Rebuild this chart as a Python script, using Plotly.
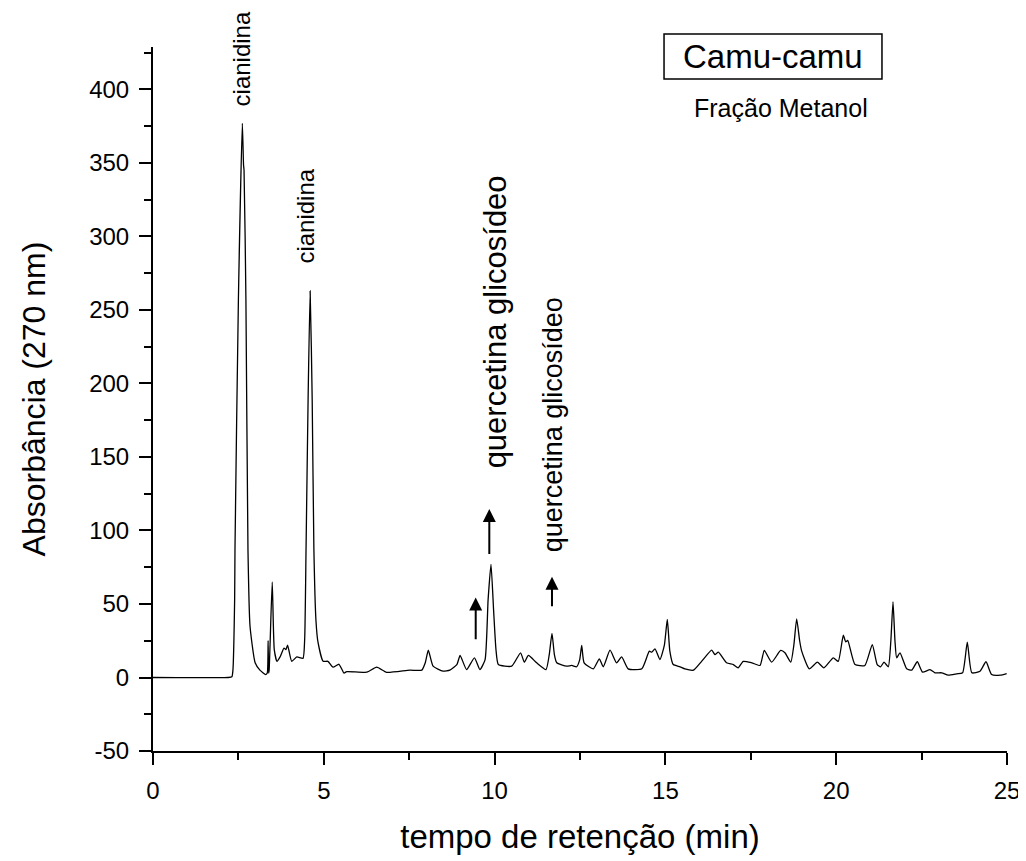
import plotly.graph_objects as go

# ---- data ----
retention_time = [
    0.0, 2.20, 2.31, 2.34, 2.39, 2.40, 2.50, 2.615, 2.65, 2.665, 2.72, 2.78, 2.84, 2.99, 3.13,
    3.30, 3.345, 3.37, 3.385, 3.40, 3.49, 3.55, 3.63, 3.72, 3.835, 3.89, 3.94, 4.06, 4.21, 4.39,
    4.44, 4.48, 4.54, 4.60, 4.66, 4.71, 4.77, 4.83, 4.98, 5.12, 5.27, 5.445, 5.59, 5.67, 6.26,
    6.55, 6.84, 7.52, 7.87, 7.97, 8.06, 8.20, 8.49, 8.69, 8.90, 8.99, 9.18, 9.41, 9.57, 9.72,
    9.81, 9.895, 9.97, 10.04, 10.11, 10.50, 10.76, 10.87, 10.99, 11.23, 11.505, 11.60, 11.68,
    11.75, 11.82, 12.11, 12.26, 12.40, 12.49, 12.55, 12.62, 12.89, 13.065, 13.18, 13.38, 13.57,
    13.72, 13.91, 14.31, 14.53, 14.60, 14.695, 14.84, 14.97, 15.056, 15.13, 15.23, 15.43, 15.57,
    15.82, 16.06, 16.355, 16.45, 16.55, 16.79, 16.99, 17.13, 17.28, 17.53, 17.77, 17.895, 18.11,
    18.375, 18.50, 18.67, 18.76, 18.843, 18.93, 18.99, 19.21, 19.45, 19.64, 19.915, 20.06,
    20.208, 20.278, 20.337, 20.55, 20.84, 21.057, 21.20, 21.30, 21.40, 21.525, 21.60, 21.663,
    21.72, 21.77, 21.867, 22.064, 22.21, 22.374, 22.53, 22.746, 22.89, 23.09, 23.28, 23.53,
    23.70, 23.838, 23.97, 24.21, 24.385, 24.55, 24.80, 24.99,
]
absorbance = [
    0.0, 0.0, 0.5, 5, 53, 87, 257, 377, 349, 345, 257, 87, 35, 10, 5,
    2, 3, 25, 3, 5, 65, 19, 11, 14, 20, 19, 22, 11, 14, 13,
    26, 87, 189, 263, 189, 87, 39, 24, 11, 11, 7, 9, 3, 4, 3.6,
    7, 3.5, 5, 5, 10, 18.6, 7.7, 4.3, 5, 9, 15, 5.4, 13.4, 5.4, 12,
    53, 77, 46, 19, 8.8, 7.7, 16.8, 10.4, 15, 10, 5.4, 15.6, 30,
    15.6, 10, 7.7, 8.2, 7.3, 12, 21.8, 10, 5.9, 12.7, 7.3, 18.6, 10,
    14, 5.9, 5.9, 17.9, 17.2, 19.5, 12.2, 22, 39.5, 18, 8.8, 7.3, 5.9,
    5, 11, 18.6, 15.6, 17.2, 10, 8.8, 6.6, 11, 10, 8.2, 18.4, 10.4,
    18.4, 16.8, 10.4, 22, 39.9, 25, 17.9, 5.9, 10.4, 6.6, 13.4, 11,
    28.8, 24.3, 25.2, 8.8, 8.2, 22.4, 8.8, 7.3, 10.4, 7.3, 25, 51.5,
    25, 13.4, 16.8, 5.9, 5, 10.7, 3.6, 5.4, 3.2, 3.2, 1.6, 2.5,
    3.2, 24, 3.2, 4.3, 10.7, 2, 1.6, 2.7,
]

x_tick_values = [0, 5, 10, 15, 20, 25]
x_tick_labels = ["0", "5", "10", "15", "20", "25"]
y_tick_values = [-50, 0, 50, 100, 150, 200, 250, 300, 350, 400]
y_tick_labels = ["-50", "0", "50", "100", "150", "200", "250", "300", "350", "400"]

# peak labels: (time, absorbance at label centre, text, font size)
peak_labels = [
    (2.60, 421, "cianidina", 24),
    (4.47, 314, "cianidina", 24),
    (10.03, 242, "quercetina glicosídeo", 31),
    (11.70, 172, "quercetina glicosídeo", 27),
]
# arrows: (time, tail absorbance, head absorbance)
arrows = [
    (9.447, 25, 54.4),
    (9.845, 83, 114.7),
    (11.68, 47.4, 68.5),
]

FONT = "Liberation Sans, Arial, sans-serif"

fig = go.Figure()
fig.add_trace(go.Scatter(
    x=retention_time, y=absorbance, mode="lines",
    line=dict(color="black", width=1.3, shape="spline", smoothing=0.5),
    showlegend=False, hoverinfo="x+y",
))

for t, a, txt, fs in peak_labels:
    fig.add_annotation(x=t, y=a, xref="x", yref="y", text=txt, textangle=-90,
                       showarrow=False, xanchor="center", yanchor="middle",
                       font=dict(family=FONT, size=fs, color="black"))

for t, tail, head in arrows:
    fig.add_annotation(x=t, y=head, ax=t, ay=tail, xref="x", yref="y", axref="x", ayref="y",
                       text="", showarrow=True, arrowhead=2, arrowsize=1.3, arrowwidth=2,
                       arrowcolor="black", standoff=0)

# title box
fig.add_shape(type="rect", xref="paper", yref="paper",
              x0=0.5984, x1=0.8536, y0=0.9545, y1=1.0185,
              line=dict(color="black", width=1.5), fillcolor="rgba(0,0,0,0)")
fig.add_annotation(x=0.726, y=0.9865, xref="paper", yref="paper", text="Camu-camu",
                   xanchor="center", yanchor="middle",
                   showarrow=False, font=dict(family=FONT, size=33, color="black"))
fig.add_annotation(x=0.7354, y=0.914, xref="paper", yref="paper", text="Fração Metanol",
                   xanchor="center", yanchor="middle",
                   showarrow=False, font=dict(family=FONT, size=25, color="black"))

axis_common = dict(
    showline=True, linecolor="black", linewidth=2, mirror=False,
    ticks="outside", ticklen=12, tickwidth=2, tickcolor="black",
    showgrid=False, zeroline=False,
    tickfont=dict(family=FONT, size=24, color="black"),
    ticklabelstandoff=5,
)

fig.update_xaxes(
    range=[0, 25], tickmode="array", tickvals=x_tick_values, ticktext=x_tick_labels,
    minor=dict(ticks="outside", ticklen=7, tickwidth=2, tickcolor="black", dtick=2.5, showgrid=False),
    title=dict(text="tempo de retenção (min)", font=dict(family=FONT, size=33, color="black"), standoff=22),
    **axis_common,
)
fig.update_yaxes(
    range=[-50, 428.9], tickmode="array", tickvals=y_tick_values, ticktext=y_tick_labels,
    minor=dict(ticks="outside", ticklen=7, tickwidth=2, tickcolor="black", dtick=25, showgrid=False),
    title=dict(text="Absorbância (270 nm)", font=dict(family=FONT, size=32, color="black"), standoff=34),
    **axis_common,
)

# page body has an 8px margin, so the figure is 8px smaller and shifted
fig.update_layout(
    width=1018, height=853,
    margin=dict(l=145, r=19, t=39, b=110, autoexpand=False),
    plot_bgcolor="white", paper_bgcolor="white",
    showlegend=False,
)

fig.write_html("out.html")
